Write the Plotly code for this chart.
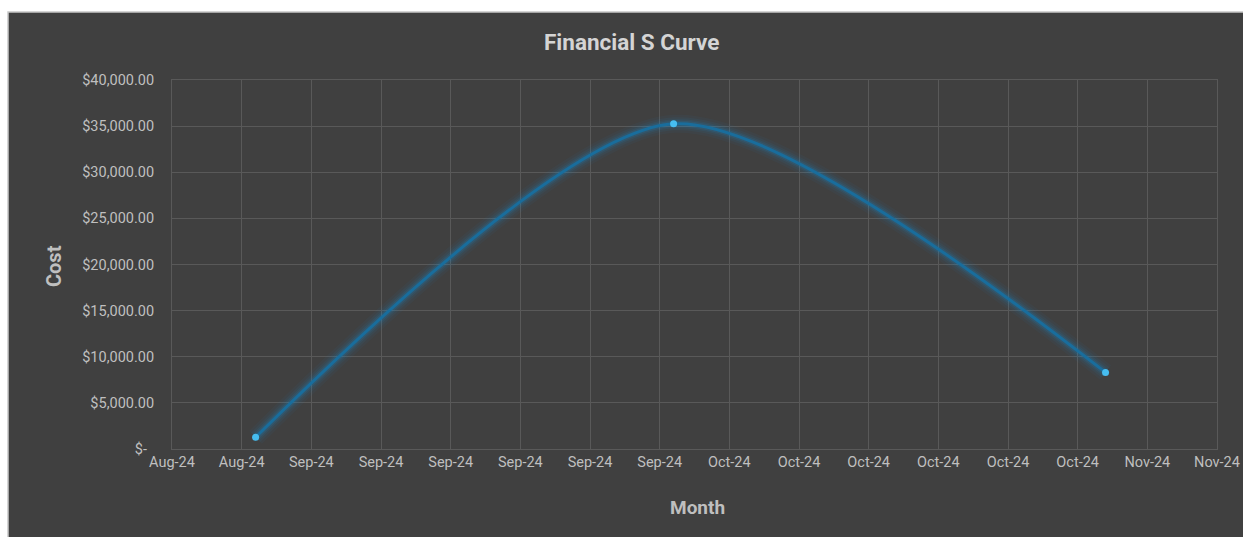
import plotly.graph_objects as go

# ---- data ----
months = ["2024-08-31", "2024-09-30", "2024-10-31"]
cost = [1270, 35250, 8300]

y_tick_vals = [0, 5000, 10000, 15000, 20000, 25000, 30000, 35000, 40000]
y_tick_text = ["$-\u00a0\u00a0", "$5,000.00", "$10,000.00", "$15,000.00", "$20,000.00",
               "$25,000.00", "$30,000.00", "$35,000.00", "$40,000.00"]

title_text = "Financial S Curve"
x_title = "Month"
y_title = "Cost"

# ---- layout geometry ----
W, H = 1243, 537
L, R, T, B = 172, 26, 80, 88
pw, ph = W - L - R, H - T - B

BG = "#404040"
GRID = "#595959"
TXT = "#bfbfbf"
FONT = "Roboto"
SMOOTH = 0.75

fig = go.Figure()

# glow layers
for w, op in [(18, 0.05), (13, 0.07), (9, 0.10), (6, 0.16)]:
    fig.add_trace(go.Scatter(
        x=months, y=cost, mode="lines",
        line=dict(shape="spline", smoothing=SMOOTH, width=w, color="#1e88c8"),
        opacity=op, hoverinfo="skip", showlegend=False))

fig.add_trace(go.Scatter(
    x=months, y=cost, mode="lines",
    line=dict(shape="spline", smoothing=SMOOTH, width=3, color="#196d9c"),
    showlegend=False))

fig.add_trace(go.Scatter(
    x=months, y=cost, mode="markers",
    marker=dict(size=7, color="#46bdf0"),
    showlegend=False))

# chart background + border (page has white strip top/left)
x0 = (8 - L) / pw
y1 = (H - B - 12) / ph
fig.add_shape(type="rect", xref="paper", yref="paper",
              x0=x0, x1=(W + 5 - L) / pw, y0=-(B + 5) / ph, y1=y1,
              fillcolor=BG, line=dict(color="#c8c8c8", width=1.5),
              layer="below")

fig.update_layout(
    width=W, height=H,
    margin=dict(l=L, r=R, t=T, b=B),
    paper_bgcolor="white",
    plot_bgcolor=BG,
    font=dict(family=FONT, color=TXT, size=14.5),
    xaxis=dict(
        type="date",
        range=["2024-08-25", "2024-11-08"],
        tick0="2024-08-25", dtick=5 * 86400000,
        tickformat="%b-%y",
        showgrid=True, gridcolor=GRID, gridwidth=1,
        showline=True, linecolor=GRID, mirror=True,
        ticks="",
        tickfont=dict(size=14.5, color=TXT),
        zeroline=False, automargin=False,
    ),
    yaxis=dict(
        range=[0, 40000],
        tickvals=y_tick_vals, ticktext=y_tick_text,
        showgrid=True, gridcolor=GRID, gridwidth=1,
        showline=True, linecolor=GRID, mirror=True,
        ticks="outside", ticklen=14, tickcolor="rgba(0,0,0,0)",
        tickfont=dict(size=14.5, color=TXT),
        zeroline=False, automargin=False,
    ),
    annotations=[
        dict(text="<b>" + title_text + "</b>", xref="paper", yref="paper",
             x=(631 - L) / pw, y=(H - B - 42) / ph, xanchor="center", yanchor="middle",
             showarrow=False, font=dict(size=22.5, color="#d4d4d4", family=FONT)),
        dict(text="<b>" + x_title + "</b>", xref="paper", yref="paper",
             x=(697 - L) / pw, y=(H - B - 507) / ph, xanchor="center", yanchor="middle",
             showarrow=False, font=dict(size=19, color=TXT, family=FONT)),
        dict(text="<b>" + y_title + "</b>", xref="paper", yref="paper",
             x=(54 - L) / pw, y=(H - B - 266) / ph, xanchor="center", yanchor="middle",
             textangle=-90, showarrow=False, font=dict(size=20, color=TXT, family=FONT)),
    ],
)

fig.write_html("out.html")
